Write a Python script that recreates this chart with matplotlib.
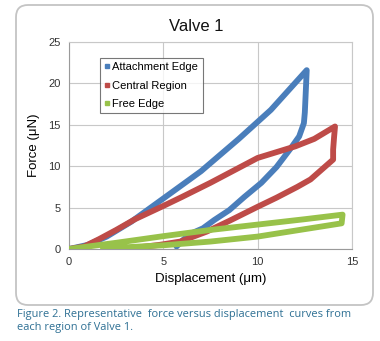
import matplotlib
matplotlib.use('Agg')
import matplotlib.pyplot as plt
from matplotlib.patches import FancyBboxPatch
from matplotlib.lines import Line2D


# loading then unloading, one closed-ish loop per region
attach_x = [0, 1, 2, 3.3, 5, 7, 9, 10.7, 12.6,
            12.55, 12.5, 12.45, 12.2, 11.7, 11.0, 10.2, 9.3, 8.5, 7.7, 7.1, 6.4, 6.0, 5.7]
attach_y = [0, 0.5, 1.5, 3.3, 6.1, 9.4, 13.3, 16.8, 21.6,
            19.0, 16.5, 15.2, 13.6, 12.0, 9.9, 8.0, 6.3, 4.7, 3.5, 2.5, 1.8, 1.0, 0.3]

central_x = [0, 0.8, 1.6, 2.5, 3.5, 5, 6, 7.5, 10, 12, 13, 14.1,
             14.05, 14.0, 14.0, 13.4, 12.8, 12.1, 11.0, 10.0, 8.5, 7.3, 5.9, 4.8, 3.5, 2.2]
central_y = [0, 0.3, 1.2, 2.3, 3.6, 5.2, 6.3, 8.0, 11.0, 12.4, 13.3, 14.8,
             13.5, 12.0, 10.8, 9.6, 8.4, 7.5, 6.2, 5.1, 3.4, 2.1, 0.9, 0.5, 0.15, 0.0]

free_x = [0, 2.5, 5, 7.5, 10, 12.5, 14.5,
          14.45, 12.5, 10, 7.5, 5, 2.5, 1.8]
free_y = [0, 0.75, 1.55, 2.3, 2.95, 3.6, 4.15,
          3.1, 2.4, 1.5, 0.9, 0.45, 0.15, 0.05]

labels = ['Attachment Edge', 'Central Region', 'Free Edge']
colors = ['#4a7ebb', '#be4b48', '#98c24a']

plt.rcParams['font.family'] = ['Liberation Sans', 'DejaVu Sans']

fig = plt.figure(figsize=(3.8, 3.41), dpi=100)

# rounded chart frame, in inches, kept behind the axes
frame = FancyBboxPatch((0.16, 0.36), 3.57, 3.00,
                       boxstyle='round,pad=0,rounding_size=0.12',
                       transform=fig.dpi_scale_trans,
                       facecolor='none', edgecolor='#c4c4c4', linewidth=1.3,
                       zorder=-1)
fig.patches.append(frame)

ax = fig.add_axes([0.1816, 0.2698, 0.7447, 0.607])
series = [(attach_x, attach_y), (central_x, central_y), (free_x, free_y)]
for (xs, ys), c in zip(series, colors):
    ax.plot(xs, ys, color=c, lw=4.2, solid_joinstyle='round',
            solid_capstyle='round', zorder=3)

ax.set_xlim(0, 15)
ax.set_ylim(0, 25)
ax.set_xticks([0, 5, 10, 15])
ax.set_yticks([0, 5, 10, 15, 20, 25])
ax.grid(True, color='#c8c8c8', lw=0.8)
ax.set_axisbelow(True)
for s in ax.spines.values():
    s.set_color('#c8c8c8')
    s.set_linewidth(0.8)
ax.spines['left'].set_color('#9a9a9a')
ax.spines['bottom'].set_color('#9a9a9a')
ax.tick_params(length=0, labelsize=8, colors='#333333', pad=6)

fig.text(0.516, 0.922, 'Valve 1', fontsize=12, color='#111111',
         ha='center', va='center')
ax.set_xlabel('Displacement (\u03bcm)', fontsize=9.5, labelpad=4)
ax.set_ylabel('Force (\u03bcN)', fontsize=9.5, labelpad=6)

handles = [Line2D([], [], ls='none', marker='s', ms=2.5, color=c) for c in colors]
leg = ax.legend(handles, labels, loc='upper left', bbox_to_anchor=(0.09, 0.95),
                fontsize=8, frameon=True, fancybox=False, handlelength=0.4,
                handletextpad=0.3, borderpad=0.4, labelspacing=0.75,
                edgecolor='#555555')
leg.get_frame().set_linewidth(0.8)

caption = ('Figure 2. Representative  force versus displacement  curves from\n'
           'each region of Valve 1.')
fig.text(0.045, 0.094, caption, fontsize=7.9, color='#2d6f93',
         family=['Open Sans', 'DejaVu Sans'], linespacing=1.3, va='top')

fig.savefig('out.png', dpi=100)
